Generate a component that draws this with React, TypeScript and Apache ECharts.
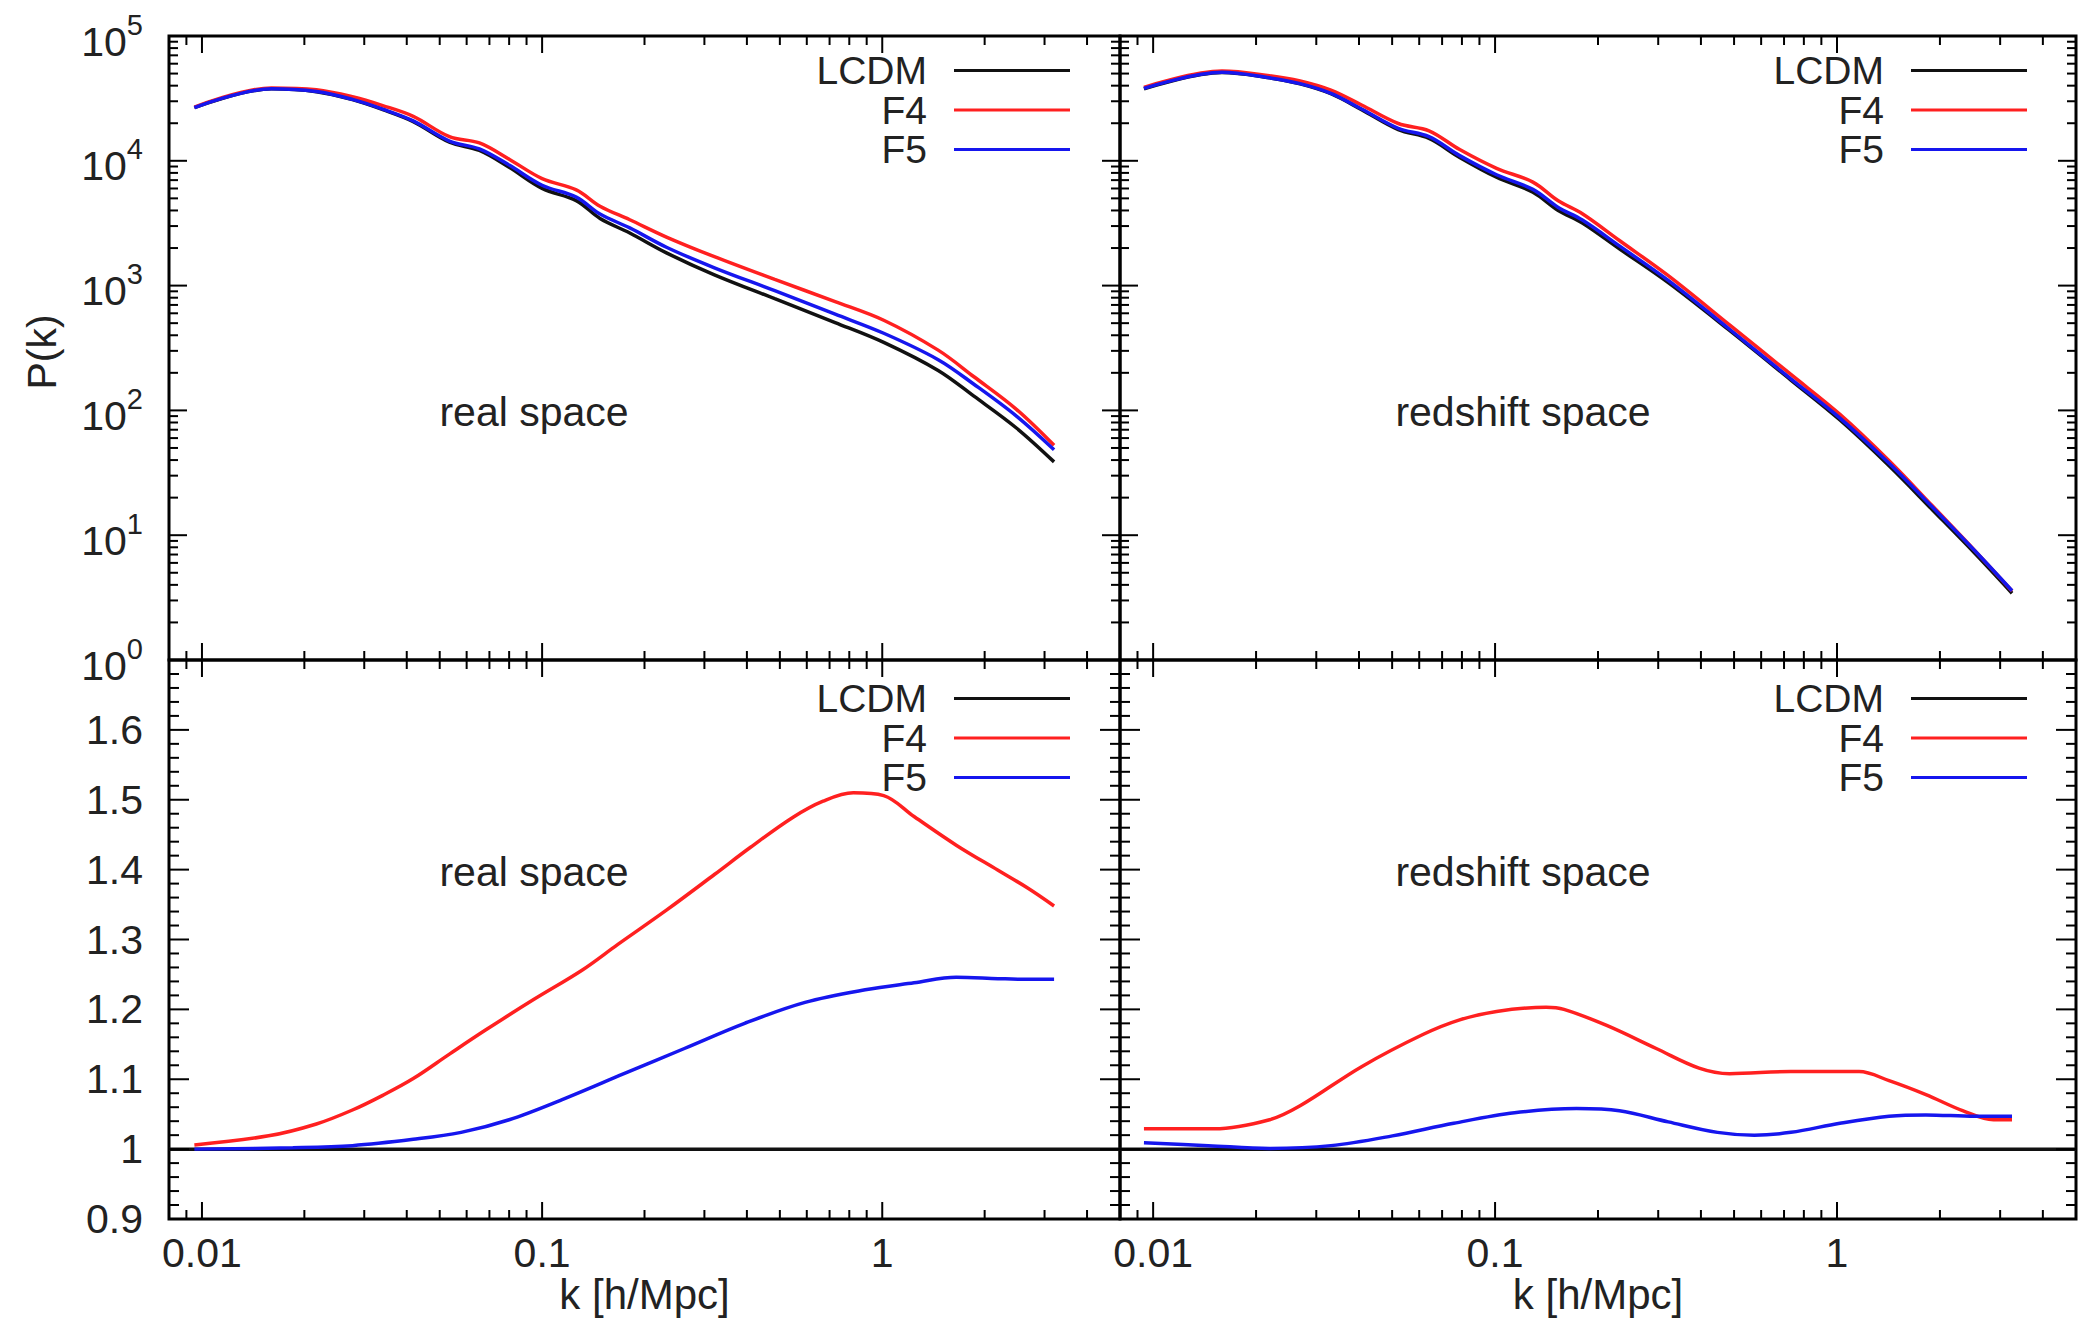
import React, { useEffect, useRef } from "react";
import * as echarts from "echarts";

// ---------- data: top-left, real-space power spectrum P(k) ----------
const K_TOP_REAL = [0.0095, 0.016, 0.0217, 0.0277, 0.034, 0.0418, 0.0534, 0.0654, 0.08, 0.1, 0.126, 0.148, 0.181, 0.232, 0.321, 0.483, 0.727, 1.01, 1.46, 1.86, 2.48, 3.2];
const P_REAL_LCDM = [26700, 37700, 35800, 30900, 25700, 20600, 14100, 12100, 8870, 6010, 4800, 3450, 2640, 1830, 1220, 785, 506, 351, 209, 130, 72.3, 38.7];
const P_REAL_F4 = [26900, 38400, 37100, 32600, 27700, 22700, 15600, 13900, 10300, 7200, 5850, 4330, 3370, 2450, 1705, 1120, 745, 528, 304, 186, 102, 52.5];
const P_REAL_F5 = [26700, 37750, 35900, 31050, 25950, 20900, 14400, 12450, 9240, 6370, 5120, 3740, 2900, 2030, 1390, 910, 590, 415, 255, 162, 90, 48.3];

// ---------- data: top-right, redshift-space power spectrum P(k) ----------
const K_TOP_Z = [0.0094, 0.0159, 0.0219, 0.0269, 0.0331, 0.0407, 0.0521, 0.0641, 0.0788, 0.101, 0.129, 0.153, 0.18, 0.231, 0.321, 0.485, 0.733, 1.02, 1.42, 1.9, 2.53, 3.25];
const P_Z_LCDM = [37700, 50900, 46200, 41400, 34500, 25700, 17800, 15100, 10640, 7380, 5600, 4000, 3170, 1970, 1055, 437, 175, 83.7, 36, 16.0, 7.16, 3.43];
const P_Z_F4 = [38800, 52400, 48100, 43600, 36800, 28000, 19900, 17400, 12300, 8700, 6750, 4780, 3770, 2300, 1200, 484, 194, 93, 39.5, 17.2, 7.52, 3.57];
const P_Z_F5 = [38000, 51200, 46200, 41500, 34700, 26000, 18200, 15600, 11000, 7730, 5900, 4230, 3350, 2080, 1100, 447, 179, 86.8, 37.7, 16.8, 7.5, 3.59];

// ---------- data: bottom-left, ratio to LCDM in real space ----------
const K_R_F4 = [0.0095, 0.0157, 0.0217, 0.0277, 0.034, 0.0418, 0.0534, 0.068, 0.0944, 0.131, 0.167, 0.232, 0.321, 0.41, 0.547, 0.67, 0.822, 1.01, 1.24, 1.65, 2.19, 2.69, 3.2];
const R_REAL_F4 = [1.006, 1.019, 1.036, 1.056, 1.077, 1.101, 1.136, 1.17, 1.214, 1.256, 1.293, 1.342, 1.393, 1.432, 1.475, 1.498, 1.51, 1.506, 1.476, 1.435, 1.399, 1.373, 1.348];
const K_R_F5 = [0.0095, 0.0185, 0.0277, 0.0418, 0.0578, 0.08, 0.116, 0.174, 0.262, 0.394, 0.593, 0.891, 1.24, 1.65, 2.19, 2.69, 3.2];
const R_REAL_F5 = [1.0, 1.002, 1.005, 1.014, 1.024, 1.042, 1.072, 1.108, 1.144, 1.18, 1.21, 1.228, 1.238, 1.246, 1.244, 1.243, 1.243];

// ---------- data: bottom-right, ratio to LCDM in redshift space ----------
const K_Z_F4 = [0.0094, 0.0151, 0.0219, 0.0269, 0.0407, 0.0615, 0.0788, 0.101, 0.141, 0.159, 0.212, 0.296, 0.395, 0.485, 0.733, 1.16, 1.42, 1.82, 2.33, 2.87, 3.25];
const R_Z_F4 = [1.029, 1.029, 1.042, 1.062, 1.118, 1.164, 1.185, 1.197, 1.203, 1.2, 1.177, 1.144, 1.116, 1.108, 1.111, 1.111, 1.098, 1.078, 1.055, 1.042, 1.042];
const K_Z_F5 = [0.0094, 0.0145, 0.0219, 0.0331, 0.0501, 0.0757, 0.114, 0.173, 0.231, 0.321, 0.447, 0.573, 0.733, 1.02, 1.42, 1.82, 2.53, 3.25];
const R_Z_F5 = [1.009, 1.005, 1.001, 1.005, 1.019, 1.037, 1.052, 1.058, 1.055, 1.039, 1.024, 1.02, 1.024, 1.037, 1.047, 1.049, 1.047, 1.047];

// LCDM reference ratio (= 1 across the full k range)
const K_ONE = [0.008, 5];
const R_ONE = [1, 1];

// ---------- axes / ticks ----------
const X_MIN = 0.008;
const X_MAX = 5;
const X_MAJOR = [0.01, 0.1, 1];
const X_MINOR = [0.009, 0.02, 0.03, 0.04, 0.05, 0.06, 0.07, 0.08, 0.09, 0.2, 0.3, 0.4, 0.5, 0.6, 0.7, 0.8, 0.9, 2, 3, 4];
const Y_LOG_MAJOR = [1, 10, 100, 1000, 10000, 100000];
const Y_LOG_MINOR: number[] = [];
for (let d = 0; d < 5; d++) for (let m = 2; m <= 9; m++) Y_LOG_MINOR.push(m * Math.pow(10, d));
const Y_LIN_MAJOR = [0.9, 1.0, 1.1, 1.2, 1.3, 1.4, 1.5, 1.6, 1.7];
const Y_LIN_MINOR: number[] = [];
for (let i = 46; i <= 84; i++) if (i % 5 !== 0) Y_LIN_MINOR.push(i / 50);

const SERIES_NAMES = ["LCDM", "F4", "F5"];
const COLORS = ["#111111", "#ff2020", "#1616ee"];
const PANEL_TEXT = ["real space", "redshift space", "real space", "redshift space"];

const FONT = "'Liberation Sans', Arial, sans-serif";
const TXT = "#222222";
const FS = 41;
const LEGEND_FS = 39;

const GRIDS = [
  { left: 169, top: 36, width: 951, height: 624 },
  { left: 1120, top: 36, width: 956, height: 624 },
  { left: 169, top: 660, width: 951, height: 559 },
  { left: 1120, top: 660, width: 956, height: 559 },
];

function zip(k: number[], v: number[]) {
  return k.map((x, i) => [x, v[i]]);
}

function tickData(gi: number) {
  const isLog = gi < 2;
  const yBase = isLog ? 1 : 0.9;
  const out: number[][] = [];
  X_MAJOR.forEach((v) => out.push([v, yBase, 0, 17]));
  X_MINOR.forEach((v) => out.push([v, yBase, 0, 9]));
  if (isLog) {
    Y_LOG_MAJOR.forEach((v) => out.push([X_MIN, v, 1, 18]));
    Y_LOG_MINOR.forEach((v) => out.push([X_MIN, v, 1, 9]));
  } else {
    Y_LIN_MAJOR.forEach((v) => out.push([X_MIN, v, 1, 20]));
    Y_LIN_MINOR.forEach((v) => out.push([X_MIN, v, 1, 10]));
  }
  return out;
}

function renderTick(params: any, api: any) {
  const cs = params.coordSys;
  const kind = api.value(2);
  const len = api.value(3);
  const p = api.coord([api.value(0), api.value(1)]);
  const sty = { stroke: "#000", lineWidth: 2 };
  if (kind === 0) {
    const x = p[0];
    const b = cs.y + cs.height;
    return {
      type: "group",
      children: [
        { type: "line", shape: { x1: x, y1: b, x2: x, y2: b - len }, style: sty },
        { type: "line", shape: { x1: x, y1: cs.y, x2: x, y2: cs.y + len }, style: sty },
      ],
    };
  }
  const y = p[1];
  const r = cs.x + cs.width;
  return {
    type: "group",
    children: [
      { type: "line", shape: { x1: cs.x, y1: y, x2: cs.x + len, y2: y }, style: sty },
      { type: "line", shape: { x1: r, y1: y, x2: r - len, y2: y }, style: sty },
    ],
  };
}

export default function App() {
  const ref = useRef<HTMLDivElement>(null);

  useEffect(() => {
    if (!ref.current) return;
    const chart = echarts.init(ref.current, undefined, { renderer: "svg" });

    const panelData = [
      [zip(K_TOP_REAL, P_REAL_LCDM), zip(K_TOP_REAL, P_REAL_F4), zip(K_TOP_REAL, P_REAL_F5)],
      [zip(K_TOP_Z, P_Z_LCDM), zip(K_TOP_Z, P_Z_F4), zip(K_TOP_Z, P_Z_F5)],
      [zip(K_ONE, R_ONE), zip(K_R_F4, R_REAL_F4), zip(K_R_F5, R_REAL_F5)],
      [zip(K_ONE, R_ONE), zip(K_Z_F4, R_Z_F4), zip(K_Z_F5, R_Z_F5)],
    ];

    const series: any[] = [];
    panelData.forEach((sets, gi) => {
      sets.forEach((d, si) => {
        series.push({
          type: "line",
          name: SERIES_NAMES[si],
          xAxisIndex: gi,
          yAxisIndex: gi,
          data: d,
          showSymbol: false,
          symbol: "none",
          smooth: 0.35,
          color: COLORS[si],
          itemStyle: { color: COLORS[si] },
          lineStyle: { color: COLORS[si], width: 3.5 },
          z: 2,
          silent: true,
        });
      });
      series.push({
        type: "custom",
        xAxisIndex: gi,
        yAxisIndex: gi,
        data: tickData(gi),
        encode: { x: 0, y: 1 },
        renderItem: renderTick,
        silent: true,
        z: 4,
      });
    });

    const xLabelFmt = (v: number) => {
      const l = Math.log10(v);
      if (Math.abs(l - Math.round(l)) > 1e-6) return "";
      return String(Number(Math.pow(10, Math.round(l)).toPrecision(1)));
    };

    const xAxis = GRIDS.map((_, gi) => ({
      type: "log",
      logBase: 10,
      gridIndex: gi,
      min: X_MIN,
      max: X_MAX,
      axisLine: { show: false },
      axisTick: { show: false },
      splitLine: { show: false },
      minorTick: { show: false },
      axisLabel: {
        show: gi >= 2,
        formatter: xLabelFmt,
        margin: 13,
        fontSize: FS,
        fontFamily: FONT,
        color: TXT,
      },
      name: gi >= 2 ? "k [h/Mpc]" : "",
      nameLocation: "middle",
      nameGap: 50,
      nameTextStyle: { fontSize: 42, fontFamily: FONT, color: TXT },
    }));

    const yAxis = GRIDS.map((_, gi) =>
      gi < 2
        ? {
            type: "log",
            logBase: 10,
            gridIndex: gi,
            min: 1,
            max: 100000,
            axisLine: { show: false },
            axisTick: { show: false },
            splitLine: { show: false },
            axisLabel: {
              show: gi === 0,
              margin: 26,
              formatter: (v: number) => "{b|10}{s|" + Math.round(Math.log10(v)) + "}",
              rich: {
                b: { fontSize: FS, fontFamily: FONT, color: TXT, verticalAlign: "bottom" },
                s: { fontSize: 29, fontFamily: FONT, color: TXT, verticalAlign: "bottom", padding: [0, 0, 23, 0] },
              },
            },
          }
        : {
            type: "value",
            gridIndex: gi,
            min: 0.9,
            max: 1.7,
            interval: 0.1,
            axisLine: { show: false },
            axisTick: { show: false },
            splitLine: { show: false },
            axisLabel: {
              show: gi === 2,
              margin: 26,
              fontSize: FS,
              fontFamily: FONT,
              color: TXT,
              formatter: (v: number) => {
                if (Math.abs(v - 1.7) < 1e-6) return "";
                if (Math.abs(v - 1) < 1e-6) return "1";
                return v.toFixed(1);
              },
            },
          }
    );

    const legend = GRIDS.map((_, gi) => ({
      data: SERIES_NAMES,
      orient: "vertical",
      align: "right",
      right: gi % 2 === 0 ? 1014 : 57,
      top: gi < 2 ? 51 : 679,
      itemWidth: 116,
      itemHeight: 3,
      itemGap: 0.5,
      icon: "rect",
      padding: 0,
      selectedMode: false,
      formatter: "{a|{name}}",
      textStyle: {
        rich: {
          a: { fontSize: LEGEND_FS, fontFamily: FONT, color: TXT, padding: [0, 22, 0, 0] },
        },
      },
    }));

    const textPos = [
      [534, 412],
      [1523, 412],
      [534, 872],
      [1523, 872],
    ];

    const graphic: any[] = PANEL_TEXT.map((t, i) => ({
      type: "text",
      x: textPos[i][0],
      y: textPos[i][1],
      z: 10,
      style: {
        text: t,
        fontSize: FS,
        fontFamily: FONT,
        fill: TXT,
        align: "center",
        verticalAlign: "middle",
      },
    }));
    graphic.push({
      type: "text",
      x: 42,
      y: 352,
      rotation: Math.PI / 2,
      style: {
        text: "P(k)",
        fontSize: FS,
        fontFamily: FONT,
        fill: TXT,
        align: "center",
        verticalAlign: "middle",
      },
    });

    chart.setOption({
      animation: false,
      backgroundColor: "#ffffff",
      textStyle: { fontFamily: FONT },
      grid: GRIDS.map((g) => ({
        ...g,
        show: true,
        borderColor: "#000",
        borderWidth: 3,
        backgroundColor: "transparent",
        containLabel: false,
      })),
      xAxis,
      yAxis,
      legend,
      series,
      graphic,
    });

    return () => chart.dispose();
  }, []);

  return (
    <div
      ref={ref}
      style={{ position: "fixed", left: 0, top: 0, width: 2084, height: 1318, background: "#fff" }}
    />
  );
}
